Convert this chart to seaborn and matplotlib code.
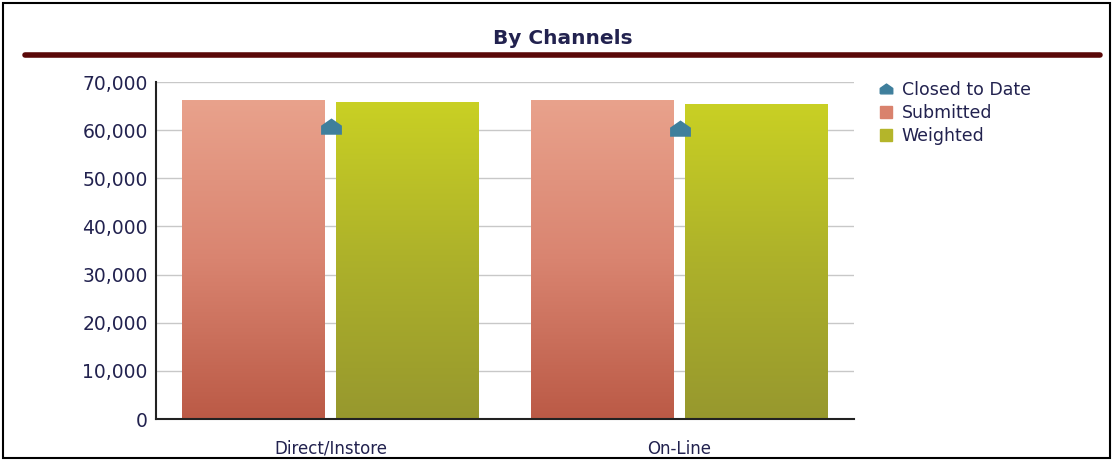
import numpy as np
import pandas as pd
import matplotlib
matplotlib.use("Agg")
import matplotlib.pyplot as plt
import seaborn as sns
from matplotlib.colors import LinearSegmentedColormap
from matplotlib.lines import Line2D
from matplotlib.patches import Rectangle
from matplotlib.ticker import FuncFormatter

categories = ["Direct/Instore", "On-Line"]
submitted = [66100, 66100]
weighted = [65700, 65300]
closed_to_date = [60600, 60300]
series_names = ["Closed to Date", "Submitted", "Weighted"]
y_ticks = [0, 10000, 20000, 30000, 40000, 50000, 60000, 70000]

navy = "#22224f"
sns.set_theme(style="white")
plt.rcParams["font.family"] = ["DejaVu Sans"]

fig = plt.figure(figsize=(11.14, 4.61), dpi=100)
ax = fig.add_axes([156 / 1114, 42 / 461, 698 / 1114, 337 / 461])

df = pd.DataFrame({
    "Channel": categories * 2,
    "Value": submitted + weighted,
    "Series": ["Submitted"] * 2 + ["Weighted"] * 2,
})
sns.barplot(data=df, x="Channel", y="Value", hue="Series", order=categories,
            hue_order=["Submitted", "Weighted"], width=0.88, gap=0.07,
            palette=["#d9826d", "#b4b52a"], legend=False, ax=ax, zorder=2,
            edgecolor="none")

cmaps = {
    "Submitted": LinearSegmentedColormap.from_list("s", ["#bb5a46", "#d98470", "#e9a28c"]),
    "Weighted": LinearSegmentedColormap.from_list("w", ["#97982e", "#adb12a", "#c9d024"]),
}
grad = np.linspace(0, 1, 256).reshape(-1, 1)
for i, patch in enumerate(ax.patches):
    name = "Submitted" if i < 2 else "Weighted"
    x0, y0 = patch.get_x(), patch.get_y()
    w, h = patch.get_width(), patch.get_height()
    ax.imshow(grad, extent=[x0, x0 + w, y0, y0 + h], origin="lower",
              aspect="auto", cmap=cmaps[name], zorder=2.1)
    patch.set_facecolor("none")

house = [(-1.15, -0.8), (1.15, -0.8), (1.15, 0.2), (0, 1), (-1.15, 0.2), (-1.15, -0.8)]
cdf = pd.DataFrame({"Channel": categories, "Value": closed_to_date})
sns.stripplot(data=cdf, x="Channel", y="Value", order=categories, jitter=False,
              marker=house, size=15, color="#3f7f9c", linewidth=0, ax=ax, zorder=4)

ax.set_xlim(-0.5, 1.5)
ax.set_ylim(0, 70000)
ax.set_yticks(y_ticks)
ax.yaxis.set_major_formatter(FuncFormatter(lambda v, p: f"{int(v):,}"))
ax.set_xlabel("")
ax.set_ylabel("")
ax.grid(axis="y", color="#c8c8c8", linewidth=1, zorder=0)
ax.set_axisbelow(True)
for s in ["top", "right"]:
    ax.spines[s].set_visible(False)
ax.spines["left"].set_color("#222222")
ax.spines["left"].set_linewidth(1.5)
ax.spines["bottom"].set_color("#222222")
ax.spines["bottom"].set_linewidth(1.5)
ax.tick_params(axis="y", labelsize=13.5, labelcolor=navy, length=0, pad=6)
ax.tick_params(axis="x", labelsize=12, labelcolor=navy, length=0, pad=15)

handles = [
    Line2D([], [], marker=house, linestyle="none", markersize=9, color="#3f7f9c"),
    Line2D([], [], marker="s", linestyle="none", markersize=8, color="#d9826d"),
    Line2D([], [], marker="s", linestyle="none", markersize=8, color="#b4b52a"),
]
fig.legend(handles, series_names, loc="upper left", bbox_to_anchor=(872 / 1114, 1 - 74 / 461),
           frameon=False, fontsize=12.5, labelcolor=navy, handlelength=0.8,
           handletextpad=0.5, labelspacing=0.3, borderaxespad=0)

fig.text(0.505, 1 - 38 / 461, "By Channels", ha="center", va="center",
         fontsize=14.5, fontweight="bold", color=navy)
fig.add_artist(Line2D([25 / 1114, 1100 / 1114], [1 - 55 / 461] * 2,
                      color="#5a0808", linewidth=4))
fig.add_artist(Rectangle((3 / 1114, 3 / 461), 1107 / 1114, 455 / 461,
                         fill=False, edgecolor="black", linewidth=1.5,
                         transform=fig.transFigure))

fig.savefig("out.png", dpi=100)
